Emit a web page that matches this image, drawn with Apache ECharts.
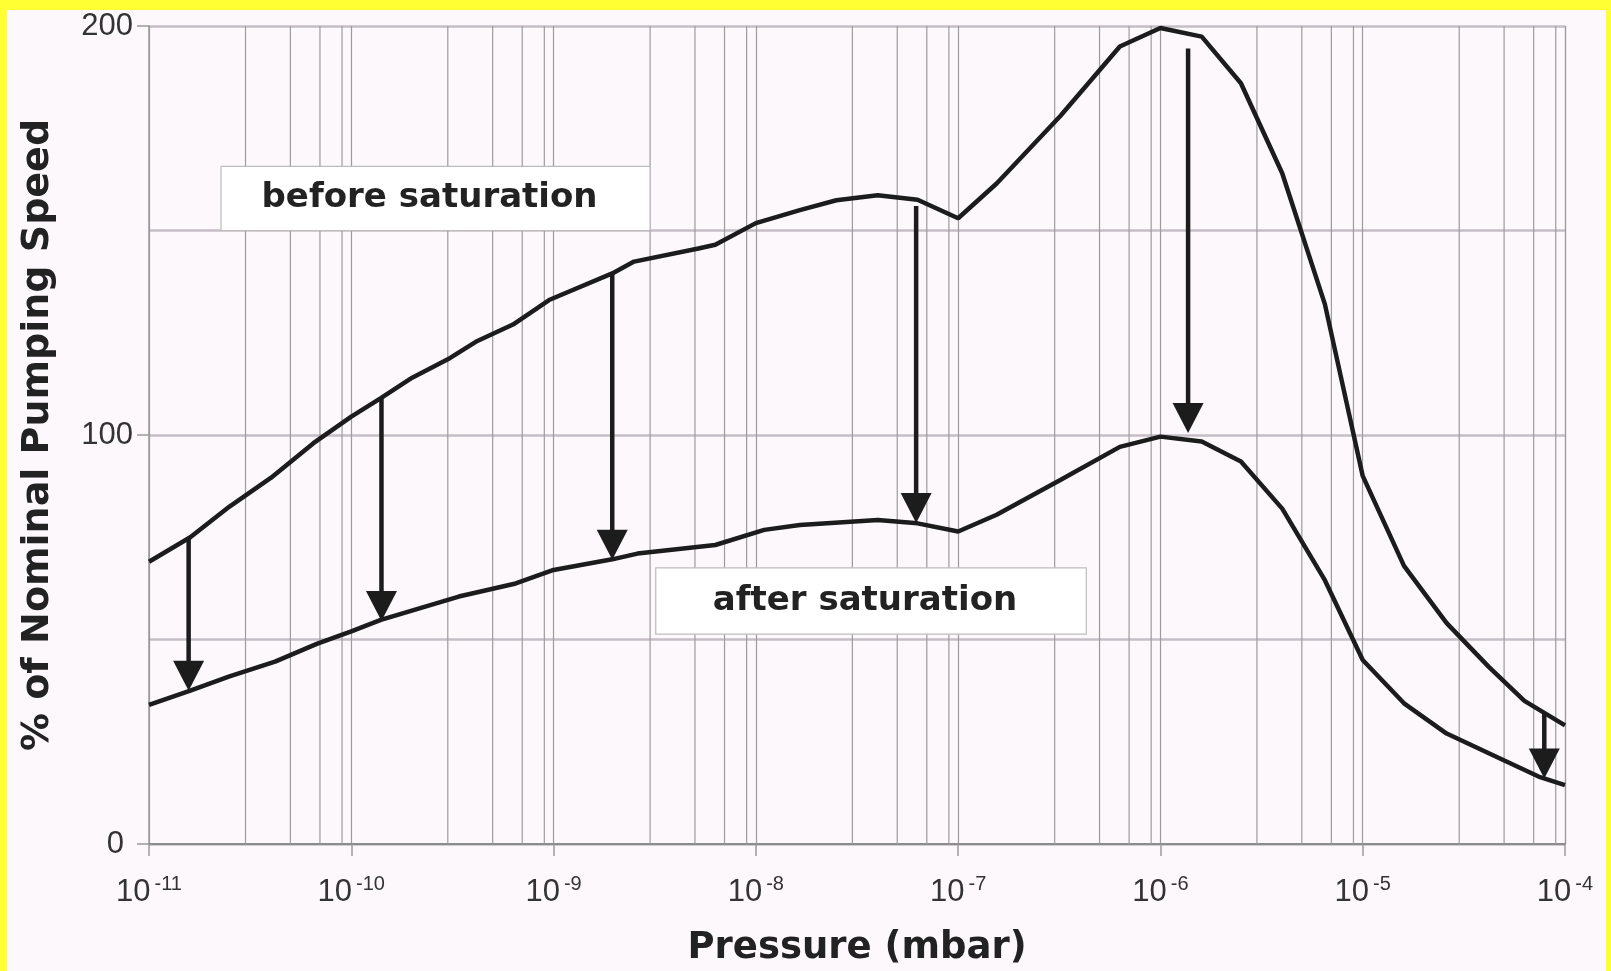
<!DOCTYPE html>
<html>
<head>
<meta charset="utf-8">
<title>Pumping speed before and after saturation</title>
<script src="https://cdn.jsdelivr.net/npm/echarts@6.0.0/dist/echarts.min.js"></script>
<style>
  html, body { margin: 0; padding: 0; background: #ffff33; }
  #main { position: absolute; left: 7px; top: 10px; width: 1599px; height: 961px; }
</style>
</head>
<body>
<div id="main"></div>
<script>
// pressure in mbar, speed in % of nominal pumping speed
var beforeP = [1.0e-11, 1.6e-11, 2.5e-11, 4.0e-11, 6.5e-11, 1.0e-10, 1.4e-10, 2.0e-10, 3.0e-10, 4.2e-10,
  6.3e-10, 9.5e-10, 1.95e-9, 2.5e-9, 5.2e-9, 6.3e-9, 1.0e-8, 1.65e-8, 2.5e-8, 4.0e-8,
  6.3e-8, 1.0e-7, 1.55e-7, 3.2e-7, 6.3e-7, 1.0e-6, 1.6e-6, 2.5e-6, 4.0e-6, 6.5e-6,
  1.0e-5, 1.6e-5, 2.6e-5, 4.2e-5, 6.3e-5, 1.0e-4];
var beforeS = [69, 75, 82.5, 89.5, 98, 104.5, 109, 114, 118.5, 123,
  127, 133, 139.5, 142.4, 145.6, 146.5, 151.8, 155, 157.4, 158.6,
  157.5, 153, 161.5, 178, 195, 199.5, 197.4, 186, 164, 132,
  90, 68, 54, 43.3, 35, 29];

var afterP = [1.0e-11, 1.6e-11, 2.5e-11, 4.2e-11, 6.8e-11, 1.0e-10, 1.4e-10, 3.4e-10, 6.5e-10, 1.0e-9,
  1.95e-9, 2.6e-9, 6.3e-9, 1.1e-8, 1.65e-8, 4.0e-8, 6.3e-8, 1.0e-7, 1.55e-7, 3.2e-7,
  6.3e-7, 1.0e-6, 1.6e-6, 2.5e-6, 4.0e-6, 6.5e-6, 1.0e-5, 1.6e-5, 2.6e-5, 4.2e-5,
  7.4e-5, 1.0e-4];
var afterS = [34, 37.5, 41, 44.6, 49, 52, 54.8, 60.5, 63.7, 67,
  69.6, 71, 73.1, 76.8, 78, 79.2, 78.4, 76.4, 80.5, 89,
  97.1, 99.6, 98.4, 93.5, 82, 64.5, 45, 34.4, 27, 22.2,
  16.5, 14.4];

// arrows from the upper to the lower curve
var arrowP = [1.57e-11, 1.41e-10, 1.95e-9, 6.2e-8, 1.37e-6, 7.9e-5];
var arrowFrom = [75, 109, 139.5, 156, 194.5, 32];
var arrowTo = [37.5, 54.5, 69.5, 78.5, 100.5, 16];

// labelled boxes
var boxText = ['before saturation', 'after saturation'];
var boxP1 = [2.27e-11, 3.2e-9];
var boxP2 = [3.0e-9, 4.3e-7];
var boxS1 = [150, 51.3];
var boxS2 = [165.7, 67.5];

// extra vertical grid lines inside each decade
var minorMant = [3, 5, 7, 9];
var minorP = [];
for (var k = -11; k < -4; k++) {
  minorMant.forEach(function (m) { minorP.push([m * Math.pow(10, k)]); });
}

function pairs(xs, ys) {
  return xs.map(function (x, i) { return [x, ys[i]]; });
}

var ink = '#1c1c1c';
var myChart = echarts.init(document.getElementById('main'));

var option = {
  backgroundColor: '#fcf8fc',
  animation: false,
  grid: { left: 142, top: 16, width: 1416, height: 818, outerBoundsMode: 'none' },
  xAxis: {
    type: 'log',
    logBase: 10,
    min: 1e-11,
    max: 1e-4,
    splitNumber: 7,
    name: 'Pressure (mbar)',
    nameLocation: 'middle',
    nameGap: 86,
    nameTextStyle: { fontFamily: 'DejaVu Sans', fontWeight: 'bold', fontSize: 37, color: '#222' },
    axisLine: { show: true, lineStyle: { color: '#8c8c8c', width: 2 } },
    axisTick: { show: true, length: 12, lineStyle: { color: '#9a9a9a', width: 1.5 } },
    splitLine: { show: true, lineStyle: { color: '#9c9c9c', width: 1.2 } },
    axisLabel: {
      margin: 30,
      formatter: function (v) {
        var e = Math.round(Math.log10(v));
        return '{b|10}{s|' + e + '}';
      },
      rich: {
        b: { fontFamily: 'Liberation Sans', fontSize: 31, lineHeight: 34, color: '#333', verticalAlign: 'bottom' },
        s: { fontFamily: 'Liberation Sans', fontSize: 20, lineHeight: 22, color: '#333', verticalAlign: 'top', padding: [0, 0, 0, 4] }
      }
    }
  },
  yAxis: {
    type: 'value',
    min: 0,
    max: 200,
    interval: 100,
    name: '% of Nominal Pumping Speed',
    nameLocation: 'middle',
    nameGap: 92,
    nameTextStyle: { fontFamily: 'DejaVu Sans', fontWeight: 'bold', fontSize: 38, color: '#222' },
    axisLine: { show: true, lineStyle: { color: '#9a9a9a', width: 1.5 } },
    axisTick: { show: true, length: 12, lineStyle: { color: '#9a9a9a', width: 1.5 } },
    minorTick: { show: false, splitNumber: 2 },
    splitLine: { show: true, lineStyle: { color: '#c6bec6', width: 2.5 } },
    minorSplitLine: { show: true, lineStyle: { color: '#c6bec6', width: 2.5 } },
    axisLabel: {
      margin: 16,
      fontFamily: 'Liberation Sans',
      fontSize: 31,
      color: '#333',
      formatter: function (v) { return v === 0 ? '{z|0}' : String(v); },
      rich: { z: { fontFamily: 'Liberation Sans', fontSize: 31, color: '#333', padding: [0, 9, 0, 0] } }
    }
  },
  series: [
    {
      // minor grid lines at 3, 5, 7, 9
      type: 'custom',
      z: 1,
      silent: true,
      data: minorP,
      encode: { x: 0 },
      renderItem: function (params, api) {
        var p = api.value(0);
        var a = api.coord([p, 0]);
        var b = api.coord([p, 200]);
        return {
          type: 'line',
          shape: { x1: a[0], y1: a[1], x2: b[0], y2: b[1] },
          style: { stroke: '#9c9c9c', lineWidth: 1.2 }
        };
      }
    },
    {
      // labelled boxes
      type: 'custom',
      z: 2,
      silent: true,
      data: boxText.map(function (t, i) { return [boxP1[i], boxP2[i], boxS1[i], boxS2[i]]; }),
      encode: { x: [0, 1], y: [2, 3] },
      renderItem: function (params, api) {
        var tl = api.coord([api.value(0), api.value(3)]);
        var br = api.coord([api.value(1), api.value(2)]);
        return {
          type: 'group',
          children: [
            {
              type: 'rect',
              shape: { x: tl[0], y: tl[1], width: br[0] - tl[0], height: br[1] - tl[1] },
              style: { fill: '#ffffff', stroke: '#bdbdbd', lineWidth: 1.2 }
            },
            {
              type: 'text',
              style: {
                text: boxText[params.dataIndex],
                x: (tl[0] + br[0]) / 2 - 6,
                y: (tl[1] + br[1]) / 2,
                align: 'center',
                verticalAlign: 'middle',
                fontFamily: 'DejaVu Sans',
                fontWeight: 'bold',
                fontSize: 34,
                fill: '#222'
              }
            }
          ]
        };
      }
    },
    {
      name: 'before saturation',
      type: 'line',
      z: 3,
      data: pairs(beforeP, beforeS),
      showSymbol: false,
      lineStyle: { color: ink, width: 4.5 }
    },
    {
      name: 'after saturation',
      type: 'line',
      z: 3,
      data: pairs(afterP, afterS),
      showSymbol: false,
      lineStyle: { color: ink, width: 4.5 }
    },
    {
      // arrows
      type: 'custom',
      z: 4,
      silent: true,
      data: arrowP.map(function (p, i) { return [p, arrowFrom[i], arrowTo[i]]; }),
      encode: { x: 0, y: [1, 2] },
      renderItem: function (params, api) {
        var s = api.coord([api.value(0), api.value(1)]);
        var t = api.coord([api.value(0), api.value(2)]);
        var h = 30, w = 31;
        return {
          type: 'group',
          children: [
            {
              type: 'line',
              shape: { x1: s[0], y1: s[1], x2: t[0], y2: t[1] - h + 2 },
              style: { stroke: ink, lineWidth: 4.5 }
            },
            {
              type: 'polygon',
              shape: { points: [[t[0] - w / 2, t[1] - h], [t[0] + w / 2, t[1] - h], [t[0], t[1]]] },
              style: { fill: ink }
            }
          ]
        };
      }
    }
  ]
};

myChart.setOption(option);
</script>
</body>
</html>
